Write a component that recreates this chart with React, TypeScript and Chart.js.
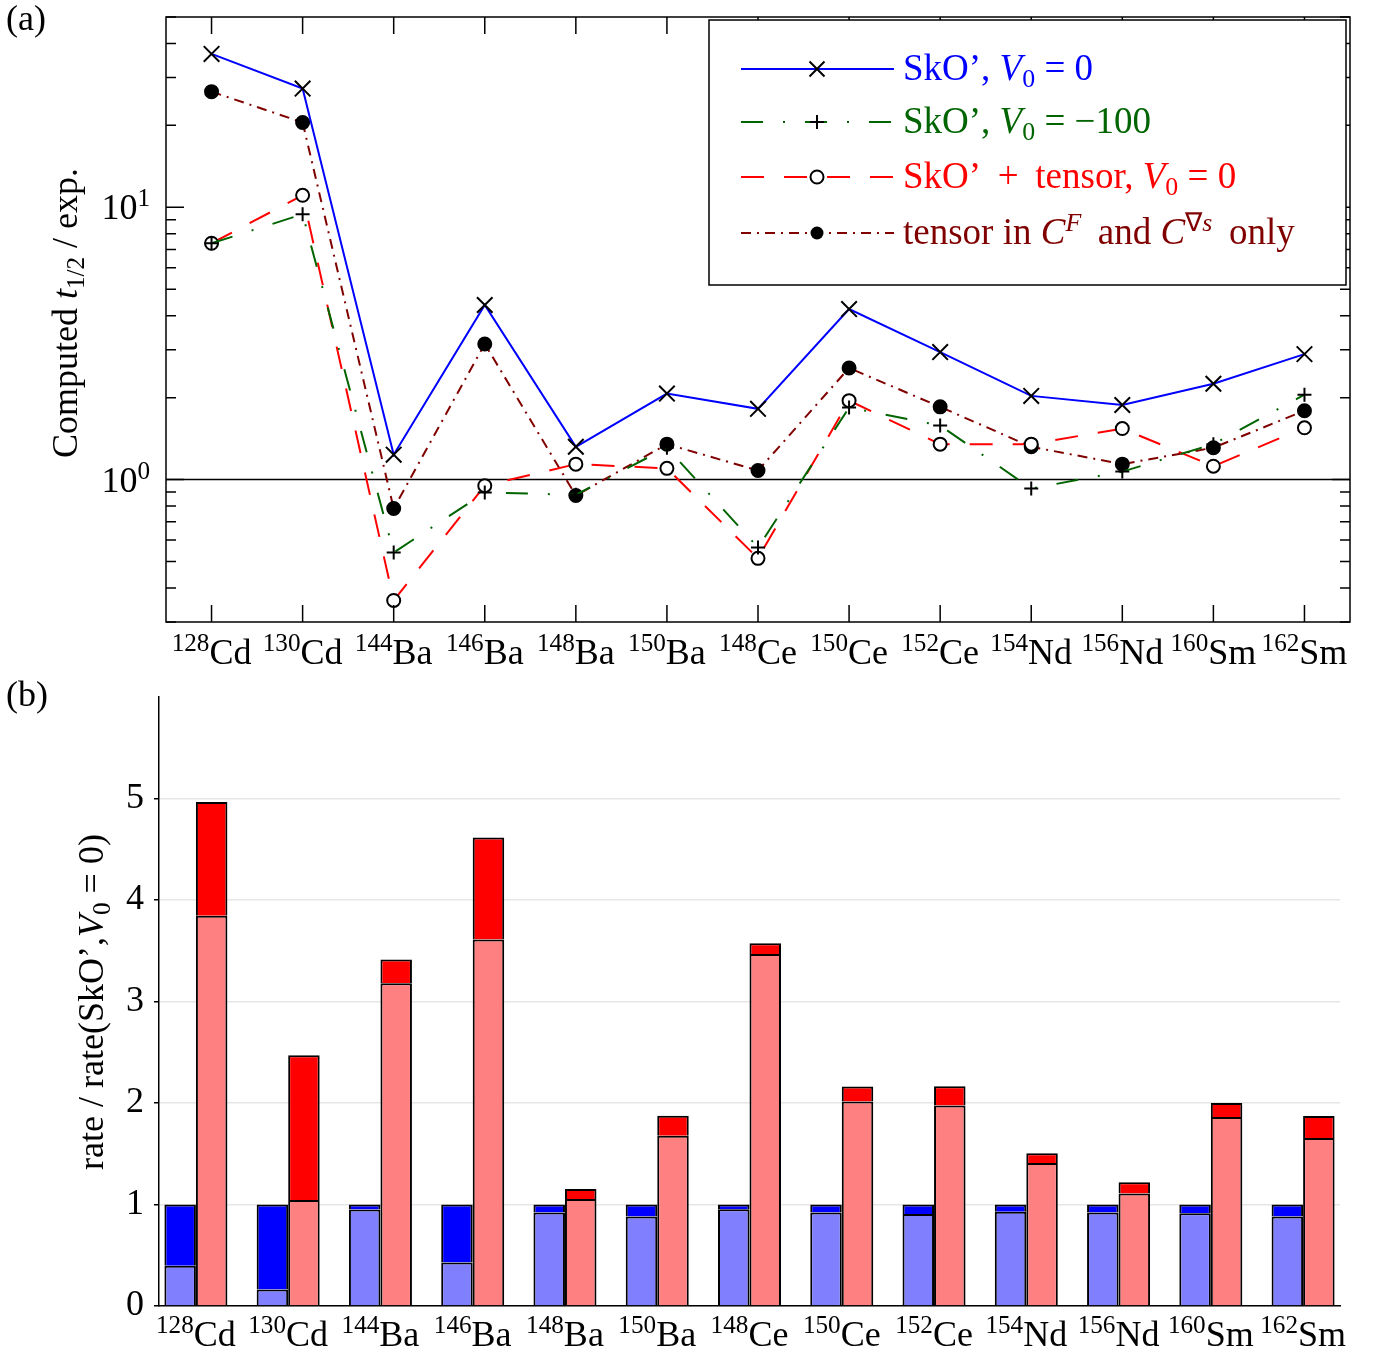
import React, { useEffect, useRef } from 'react';
import { Chart, registerables } from 'chart.js';
Chart.register(...registerables);

// ---------- data ----------
const massNumbers = ['128', '130', '144', '146', '148', '150', '148', '150', '152', '154', '156', '160', '162'];
const elements = ['Cd', 'Cd', 'Ba', 'Ba', 'Ba', 'Ba', 'Ce', 'Ce', 'Ce', 'Nd', 'Nd', 'Sm', 'Sm'];
const nuclei = massNumbers.map((m, i) => m + elements[i]);

// panel (a): computed t1/2 / exp.
const skoV0 = [36.6, 27.3, 1.235, 4.38, 1.32, 2.07, 1.82, 4.23, 2.94, 2.03, 1.88, 2.25, 2.89];
const skoV0m100 = [7.38, 9.43, 0.54, 0.896, 0.88, 1.31, 0.563, 1.84, 1.58, 0.927, 1.07, 1.35, 2.05];
const skoTensor = [7.38, 11.07, 0.36, 0.95, 1.14, 1.1, 0.514, 1.95, 1.35, 1.35, 1.54, 1.12, 1.55];
const tensorCFOnly = [26.6, 20.5, 0.783, 3.15, 0.874, 1.35, 1.08, 2.57, 1.85, 1.32, 1.14, 1.31, 1.79];

const logTicks = [0.3, 0.4, 0.5, 0.6, 0.7, 0.8, 0.9, 1, 2, 3, 4, 5, 6, 7, 8, 9, 10, 20, 30, 40, 50];
const majorLogTicks = [1, 10];
const majorLogLabels = [['10', '0'], ['10', '1']];

// panel (b): rate / rate(SkO', V0 = 0)
const blueLower = [0.397, 0.163, 0.95, 0.428, 0.922, 0.883, 0.952, 0.922, 0.906, 0.928, 0.921, 0.915, 0.882];
const blueTotal = [1, 1, 1, 1, 1, 1, 1, 1, 1, 1, 1, 1, 1];
const redLower = [3.846, 1.045, 3.18, 3.61, 1.053, 1.677, 3.469, 2.015, 1.976, 1.41, 1.108, 1.862, 1.656];
const redTotal = [4.966, 2.471, 3.415, 4.616, 1.152, 1.874, 3.574, 2.163, 2.164, 1.505, 1.22, 2.0, 1.872];
const barYTicks = [0, 1, 2, 3, 4, 5];

// ---------- styles ----------
const FONT = "'Liberation Serif', 'Times New Roman', serif";
const FS = 36;
const LFS = 37;
const BLUE = '#0000ff';
const GREEN = '#006400';
const RED = '#ff0000';
const MAROON = '#800000';

type Seg = { t: string; i?: boolean; sub?: boolean; sup?: boolean };

function drawRich(ctx: CanvasRenderingContext2D, segs: Seg[], x: number, y: number, size: number, measureOnly = false): number {
  let cx = x;
  for (const s of segs) {
    const fs = s.sub || s.sup ? size * 0.7 : size;
    ctx.font = `${s.i ? 'italic ' : ''}${fs}px ${FONT}`;
    const dy = s.sub ? size * 0.2 : s.sup ? -size * 0.36 : 0;
    if (!measureOnly) ctx.fillText(s.t, cx, y + dy);
    cx += ctx.measureText(s.t).width;
  }
  return cx - x;
}

function drawNucleusLabels(chart: any, baseline: number) {
  const { ctx, scales } = chart;
  ctx.save();
  ctx.fillStyle = '#000';
  ctx.textBaseline = 'alphabetic';
  ctx.textAlign = 'left';
  for (let i = 0; i < nuclei.length; i++) {
    const px = scales.x.getPixelForValue(i);
    const segs: Seg[] = [{ t: massNumbers[i], sup: true }, { t: elements[i] }];
    const w = drawRich(ctx, segs, 0, 0, FS, true);
    drawRich(ctx, segs, px - w / 2, baseline, FS);
  }
  ctx.restore();
}

const legendItems: { color: string; dash: number[]; marker: string; segs: Seg[] }[] = [
  { color: BLUE, dash: [], marker: 'x', segs: [{ t: 'SkO’, ' }, { t: 'V', i: true }, { t: '0', sub: true }, { t: ' = 0' }] },
  { color: GREEN, dash: [22, 20, 2, 20], marker: '+', segs: [{ t: 'SkO’, ' }, { t: 'V', i: true }, { t: '0', sub: true }, { t: ' = −100' }] },
  { color: RED, dash: [23, 20], marker: 'o', segs: [{ t: 'SkO’ \u2009+\u2009 tensor, ' }, { t: 'V', i: true }, { t: '0', sub: true }, { t: ' = 0' }] },
  {
    color: MAROON, dash: [10, 6, 2, 6], marker: '•',
    segs: [{ t: 'tensor in ' }, { t: 'C', i: true }, { t: 'F', i: true, sup: true }, { t: '\u2009 and ' }, { t: 'C', i: true }, { t: '∇', sup: true }, { t: 's', i: true, sup: true }, { t: '\u2009 only' }],
  },
];

function drawMarker(ctx: CanvasRenderingContext2D, kind: string, x: number, y: number) {
  ctx.save();
  ctx.setLineDash([]);
  ctx.strokeStyle = '#000';
  ctx.fillStyle = '#000';
  ctx.lineWidth = 2;
  ctx.beginPath();
  if (kind === 'x') {
    const d = 7.5;
    ctx.moveTo(x - d, y - d); ctx.lineTo(x + d, y + d);
    ctx.moveTo(x - d, y + d); ctx.lineTo(x + d, y - d);
    ctx.stroke();
  } else if (kind === '+') {
    const d = 7;
    ctx.moveTo(x - d, y); ctx.lineTo(x + d, y);
    ctx.moveTo(x, y - d); ctx.lineTo(x, y + d);
    ctx.stroke();
  } else if (kind === 'o') {
    ctx.fillStyle = '#fff';
    ctx.arc(x, y, 6.5, 0, Math.PI * 2);
    ctx.fill();
    ctx.stroke();
  } else {
    ctx.arc(x, y, 6.5, 0, Math.PI * 2);
    ctx.fill();
  }
  ctx.restore();
}

const topPlugin = {
  id: 'topDecor',
  beforeDatasetsDraw(chart: any) {
    const { ctx, chartArea, scales } = chart;
    const py = scales.y.getPixelForValue(1);
    ctx.save();
    ctx.strokeStyle = '#000';
    ctx.lineWidth = 1.5;
    ctx.beginPath();
    ctx.moveTo(chartArea.left, py);
    ctx.lineTo(chartArea.right, py);
    ctx.stroke();
    ctx.restore();
  },
  afterDatasetsDraw(chart: any) {
    const { ctx, chartArea, scales } = chart;
    const { left, right, top, bottom } = chartArea;
    ctx.save();
    ctx.strokeStyle = '#000';
    ctx.lineWidth = 1.5;
    ctx.setLineDash([]);
    ctx.strokeRect(left, top, right - left, bottom - top);
    ctx.beginPath();
    for (const v of logTicks) {
      const py = scales.y.getPixelForValue(v);
      const len = majorLogTicks.includes(v) ? 18 : 10;
      ctx.moveTo(left, py); ctx.lineTo(left + len, py);
      ctx.moveTo(right, py); ctx.lineTo(right - len, py);
    }
    for (let i = 0; i < nuclei.length; i++) {
      const px = scales.x.getPixelForValue(i);
      ctx.moveTo(px, top); ctx.lineTo(px, top + 17);
      ctx.moveTo(px, bottom); ctx.lineTo(px, bottom - 17);
    }
    ctx.stroke();

    // legend
    const bx = 709, by = 20, bw = 637, bh = 265;
    ctx.fillStyle = '#fff';
    ctx.fillRect(bx, by, bw, bh);
    ctx.strokeRect(bx, by, bw, bh);
    const rows = [69, 122, 177, 233];
    legendItems.forEach((it, k) => {
      const y = rows[k];
      ctx.save();
      ctx.strokeStyle = it.color;
      ctx.lineWidth = 2;
      ctx.setLineDash(it.dash);
      ctx.beginPath();
      ctx.moveTo(741, y);
      ctx.lineTo(894, y);
      ctx.stroke();
      ctx.restore();
      drawMarker(ctx, it.marker, 817, y);
      ctx.fillStyle = it.color;
      ctx.textBaseline = 'alphabetic';
      ctx.textAlign = 'left';
      drawRich(ctx, it.segs, 903, y + 11, LFS);
    });
    ctx.restore();
  },
  afterDraw(chart: any) {
    const { ctx, scales } = chart;
    drawNucleusLabels(chart, 664);
    ctx.save();
    ctx.fillStyle = '#000';
    ctx.textBaseline = 'alphabetic';
    ctx.textAlign = 'left';
    // major log tick labels
    majorLogTicks.forEach((v, k) => {
      const py = scales.y.getPixelForValue(v);
      const segs: Seg[] = [{ t: majorLogLabels[k][0] }, { t: majorLogLabels[k][1], sup: true }];
      const w = drawRich(ctx, segs, 0, 0, FS, true);
      drawRich(ctx, segs, 150 - w, py + 12, FS);
    });
    ctx.font = `${FS}px ${FONT}`;
    ctx.fillText('(a)', 6, 30);
    const segs: Seg[] = [{ t: 'Computed ' }, { t: 't', i: true }, { t: '1/2', sub: true }, { t: ' / exp.' }];
    const w = drawRich(ctx, segs, 0, 0, FS, true);
    ctx.translate(77, 313);
    ctx.rotate(-Math.PI / 2);
    drawRich(ctx, segs, -w / 2, 0, FS);
    ctx.restore();
  },
};

const botPlugin = {
  id: 'botDecor',
  afterDraw(chart: any) {
    const { ctx } = chart;
    drawNucleusLabels(chart, 676);
    ctx.save();
    ctx.fillStyle = '#000';
    ctx.textBaseline = 'alphabetic';
    ctx.textAlign = 'left';
    ctx.font = `${FS}px ${FONT}`;
    ctx.fillText('(b)', 6, 36);
    const segs: Seg[] = [{ t: 'rate / rate(SkO’,' }, { t: 'V', i: true }, { t: '0', sub: true }, { t: ' = 0)' }];
    const w = drawRich(ctx, segs, 0, 0, FS, true);
    ctx.translate(103, 332);
    ctx.rotate(-Math.PI / 2);
    drawRich(ctx, segs, -w / 2, 0, FS);
    ctx.restore();
  },
};

function lineDs(label: string, data: number[], color: string, dash: number[], pointStyle: string, radius: number, bg: string) {
  return {
    label,
    data,
    borderColor: color,
    borderWidth: 2,
    borderDash: dash,
    fill: false,
    tension: 0,
    pointStyle,
    pointRadius: radius,
    pointHoverRadius: radius,
    pointBorderColor: '#000',
    pointBackgroundColor: bg,
    pointBorderWidth: 2,
  };
}

const noPad = (s: any) => { s.paddingTop = 0; s.paddingBottom = 0; s.paddingLeft = 0; s.paddingRight = 0; };

export default function App() {
  const topRef = useRef<HTMLCanvasElement>(null);
  const botRef = useRef<HTMLCanvasElement>(null);

  useEffect(() => {
    const tickFont = { family: FONT, size: FS };
    const c1 = new Chart(topRef.current as HTMLCanvasElement, {
      type: 'line',
      data: {
        labels: nuclei,
        datasets: [
          lineDs('SkO’, V0 = 0', skoV0, BLUE, [], 'crossRot', 11, '#000'),
          lineDs('SkO’, V0 = −100', skoV0m100, GREEN, [22, 20, 2, 20], 'cross', 7, '#000'),
          lineDs('SkO’ + tensor, V0 = 0', skoTensor, RED, [23, 20], 'circle', 6.5, '#fff'),
          lineDs('tensor in CF and C∇s only', tensorCFOnly, MAROON, [10, 6, 2, 6], 'circle', 6.5, '#000'),
        ] as any,
      },
      options: {
        responsive: false,
        animation: false,
        devicePixelRatio: 1,
        layout: { padding: { left: 0, top: 17, right: 34, bottom: 0 } },
        plugins: { legend: { display: false }, tooltip: { enabled: false } },
        scales: {
          x: {
            type: 'category',
            offset: true,
            grid: { display: false, drawTicks: false },
            border: { display: false },
            ticks: { display: false, font: tickFont },
            afterFit: (s: any) => { s.height = 48; noPad(s); },
          },
          y: {
            type: 'logarithmic',
            min: 0.3,
            max: 50,
            grid: { display: false, drawTicks: false },
            border: { display: false },
            afterBuildTicks: (axis: any) => { axis.ticks = logTicks.map((v) => ({ value: v })); },
            ticks: { display: false, font: tickFont },
            afterFit: (s: any) => { s.width = 166; noPad(s); },
          },
        },
      } as any,
      plugins: [topPlugin],
    });

    const mk = (arr: number[]) => arr.map((v, i) => ({ x: i, y: v }));
    const barCommon = { borderColor: '#000', borderWidth: 2, categoryPercentage: 0.683, barPercentage: 1.0 };
    const c2 = new Chart(botRef.current as HTMLCanvasElement, {
      type: 'bar',
      data: {
        datasets: [
          { ...barCommon, label: 'blue lower', data: mk(blueLower), backgroundColor: '#8080ff', stack: 'blue' },
          { ...barCommon, label: 'blue upper', data: mk(blueTotal.map((t, i) => t - blueLower[i])), backgroundColor: BLUE, stack: 'blue' },
          { ...barCommon, label: 'red lower', data: mk(redLower), backgroundColor: '#ff8080', stack: 'red' },
          { ...barCommon, label: 'red upper', data: mk(redTotal.map((t, i) => t - redLower[i])), backgroundColor: RED, stack: 'red' },
        ] as any,
      },
      options: {
        responsive: false,
        animation: false,
        devicePixelRatio: 1,
        layout: { padding: { left: 0, top: 27, right: 44, bottom: 0 } },
        plugins: { legend: { display: false }, tooltip: { enabled: false } },
        scales: {
          x: {
            type: 'linear',
            offset: false,
            min: -0.4,
            max: 12.4,
            stacked: true,
            grid: { display: false, drawTicks: false, offset: false },
            border: { display: true, color: '#000', width: 1.5 },
            afterBuildTicks: (axis: any) => { axis.ticks = nuclei.map((_, i) => ({ value: i })); },
            ticks: { display: false, font: tickFont },
            afterFit: (s: any) => { s.height = 49; noPad(s); },
          },
          y: {
            type: 'linear',
            min: 0,
            max: 6,
            stacked: true,
            grid: { color: '#e6e6e6', lineWidth: 1.5, drawTicks: true, tickLength: 5, tickColor: '#000', tickWidth: 1.5 },
            border: { display: true, color: '#000', width: 1.5 },
            afterBuildTicks: (axis: any) => { axis.ticks = barYTicks.map((v) => ({ value: v })); },
            ticks: { font: tickFont, color: '#000', padding: 10 },
            afterFit: (s: any) => { s.width = 159; noPad(s); },
          },
        },
      } as any,
      plugins: [botPlugin],
    });
    return () => { c1.destroy(); c2.destroy(); };
  }, []);

  return (
    <div style={{ position: 'absolute', left: 0, top: 0, width: 1384, height: 1355, background: '#fff', overflow: 'hidden' }}>
      <canvas ref={topRef} width={1384} height={670} style={{ position: 'absolute', left: 0, top: 0, width: 1384, height: 670 }} />
      <canvas ref={botRef} width={1384} height={685} style={{ position: 'absolute', left: 0, top: 670, width: 1384, height: 685 }} />
    </div>
  );
}
